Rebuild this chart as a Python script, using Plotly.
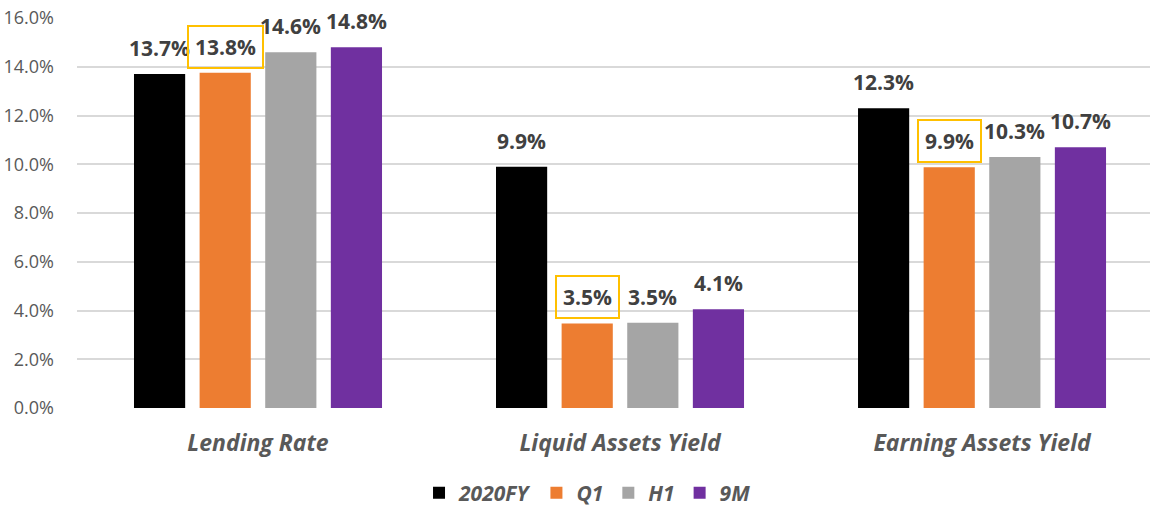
import plotly.graph_objects as go

categories = ["Lending Rate", "Liquid Assets Yield", "Earning Assets Yield"]
series_names = ["2020FY", "Q1", "H1", "9M"]
values_2020fy = [13.7, 9.9, 12.3]
values_q1 = [13.75, 3.47, 9.88]
values_h1 = [14.6, 3.5, 10.3]
values_9m = [14.8, 4.05, 10.7]
labels_2020fy = ["13.7%", "9.9%", "12.3%"]
labels_q1 = ["13.8%", "3.5%", "9.9%"]
labels_h1 = ["14.6%", "3.5%", "10.3%"]
labels_9m = ["14.8%", "4.1%", "10.7%"]
colors = ["#000000", "#ED7D31", "#A5A5A5", "#7030A0"]
tick_vals = [0, 2, 4, 6, 8, 10, 12, 14, 16]
tick_text = ["0.0%", "2.0%", "4.0%", "6.0%", "8.0%", "10.0%", "12.0%", "14.0%", "16.0%"]
highlight_series = "Q1"

all_values = [values_2020fy, values_q1, values_h1, values_9m]
all_labels = [labels_2020fy, labels_q1, labels_h1, labels_9m]

bargap = 0.275
fig = go.Figure()
for name, vals, col in zip(series_names, all_values, colors):
    fig.add_trace(go.Bar(name=name, x=categories, y=vals, marker_color=col,
                         marker_line_width=0))

slot = (1 - bargap) / len(series_names)
annotations = []
for i, (name, vals, labs) in enumerate(zip(series_names, all_values, all_labels)):
    off = (i - (len(series_names) - 1) / 2) * slot
    for ci, (v, lab) in enumerate(zip(vals, labs)):
        ann = dict(x=ci + off, y=v, xref="x", yref="y", text=lab, showarrow=False,
                   yshift=26, yanchor="middle", xanchor="center",
                   font=dict(family="Open Sans", size=21, color="#404040", weight="bold"))
        if name == highlight_series:
            ann.update(bordercolor="#FFC000", borderwidth=2, borderpad=6)
        annotations.append(ann)

fig.update_layout(
    width=1152, height=510,
    margin=dict(l=77, r=2, t=18, b=102),
    paper_bgcolor="white", plot_bgcolor="white",
    barmode="group", bargap=bargap, bargroupgap=0.22,
    annotations=annotations,
    legend=dict(orientation="h", xref="container", x=0.51, xanchor="center",
                yref="container", y=0.033, yanchor="middle",
                font=dict(family="Open Sans", size=21, color="#595959", weight="bold", style="italic"),
                itemwidth=30, traceorder="normal"),
    xaxis=dict(type="category", range=[-0.5, 2.464], showgrid=False, showline=False,
               ticks="", ticklabelstandoff=19,
               tickfont=dict(family="Open Sans", size=23, color="#595959", weight="bold", style="italic")),
    yaxis=dict(range=[0, 16], tickvals=tick_vals, ticktext=tick_text, showgrid=True,
               gridcolor="#D9D9D9", gridwidth=1.5, zeroline=False, showline=False,
               ticklabelstandoff=22,
               tickfont=dict(family="Open Sans", size=18, color="#595959")),
)
fig.write_html("out.html")
